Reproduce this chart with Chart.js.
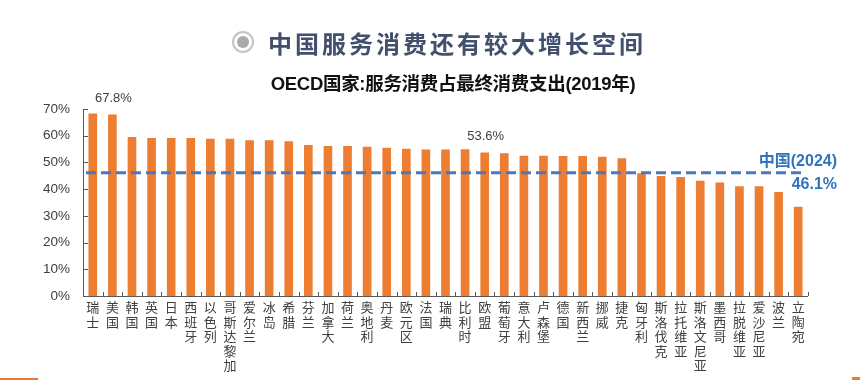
<!DOCTYPE html>
<html>
<head>
<meta charset="utf-8">
<script src="https://cdn.jsdelivr.net/npm/chart.js@4.4.1/dist/chart.umd.min.js"></script>
<style>
  html, body { margin: 0; padding: 0; background: #fff; }
  body { width: 860px; height: 380px; position: relative; overflow: hidden; }
  #wrap { position: absolute; left: 0; top: 0; width: 860px; height: 380px; }
  #title { position: absolute; top: 25px; left: 232px; height: 34px; display: flex; align-items: center;
    font-family: "Noto Sans CJK SC", sans-serif; font-weight: 700; font-size: 24px; letter-spacing: 3px; color: #42506e; white-space: nowrap; }
  #icon { width: 18px; height: 18px; border: 2px solid #c4c4c4; border-radius: 50%; position: relative; margin-right: 14px; }
  #icon::after { content: ""; position: absolute; left: 3px; top: 3px; width: 12px; height: 12px; border-radius: 50%; background: #a9a9a9; }
  #subtitle { position: absolute; top: 69px; left: 0; width: 906px; text-align: center;
    font-family: "Liberation Sans", "Noto Sans CJK SC", sans-serif; font-weight: 700; font-size: 18.5px; color: #111; white-space: nowrap; letter-spacing: -0.3px; }
  .deco { position: absolute; background: #e07b39; }
</style>
</head>
<body>
<div id="wrap"><canvas id="c" width="860" height="380"></canvas></div>
<div id="title"><div id="icon"></div>中国服务消费还有较大增长空间</div>
<div id="subtitle">OECD国家:服务消费占最终消费支出(2019年)</div>
<div class="deco" style="left:0;top:378px;width:38px;height:2px;"></div>
<div class="deco" style="left:852px;top:377px;width:8px;height:3px;"></div>
<script>
const countries = ['瑞士','美国','韩国','英国','日本','西班牙','以色列','哥斯达黎加','爱尔兰','冰岛','希腊','芬兰','加拿大','荷兰','奥地利','丹麦','欧元区','法国','瑞典','比利时','欧盟','葡萄牙','意大利','卢森堡','德国','新西兰','挪威','捷克','匈牙利','斯洛伐克','拉托维亚','斯洛文尼亚','墨西哥','拉脱维亚','爱沙尼亚','波兰','立陶宛'];
const serviceShare = [68.2,67.8,59.4,59.0,59.0,59.0,58.7,58.7,58.2,58.2,57.8,56.4,56.0,56.0,55.7,55.4,55.0,54.7,54.7,54.8,53.6,53.3,52.4,52.4,52.3,52.3,52.0,51.4,45.8,44.8,44.4,43.0,42.4,41.0,41.0,38.8,33.3];
const labeledCountries = ['美国','欧盟'];
const chinaLabel = '中国(2024)';
const chinaValue = 46.1;
const yTicks = [0,10,20,30,40,50,60,70];

const axisColor = '#595959';

const decorPlugin = {
  id: 'decor',
  afterDatasetsDraw(chart) {
    const ctx = chart.ctx, ca = chart.chartArea;
    const xs = chart.scales.x, ys = chart.scales.y;
    ctx.save();
    ctx.strokeStyle = axisColor; ctx.lineWidth = 1;
    ctx.beginPath();
    ctx.moveTo(Math.round(ca.left) + 0.5, ca.top);
    ctx.lineTo(Math.round(ca.left) + 0.5, Math.round(ca.bottom) + 0.5);
    ctx.lineTo(ca.right, Math.round(ca.bottom) + 0.5);
    ctx.stroke();
    ctx.beginPath();
    yTicks.forEach(v => {
      const y = Math.round(ys.getPixelForValue(v)) + 0.5;
      ctx.moveTo(ca.left, y); ctx.lineTo(ca.left + 5, y);
    });
    const n = countries.length;
    for (let i = 0; i <= n; i++) {
      const x = Math.round(ca.left + i * (ca.right - ca.left) / n) + 0.5;
      ctx.moveTo(x, ca.bottom); ctx.lineTo(x, ca.bottom - 4);
    }
    ctx.stroke();
    const yc = ys.getPixelForValue(chinaValue);
    ctx.strokeStyle = '#4a78bf'; ctx.lineWidth = 3; ctx.setLineDash([10, 5]);
    ctx.beginPath(); ctx.moveTo(ca.left + 3, yc); ctx.lineTo(ca.right - 7, yc); ctx.stroke();
    ctx.setLineDash([]);
    ctx.fillStyle = '#2f75bd';
    ctx.font = 'bold 16px "Liberation Sans", "Noto Sans CJK SC", sans-serif';
    ctx.textAlign = 'right'; ctx.textBaseline = 'middle';
    ctx.fillText(chinaLabel, ca.right + 29, yc - 11);
    ctx.fillText(chinaValue.toFixed(1) + '%', ca.right + 29, yc + 12);
    ctx.fillStyle = '#404040';
    ctx.font = '13px "Liberation Sans", sans-serif';
    ctx.textAlign = 'center';
    const meta = chart.getDatasetMeta(0);
    labeledCountries.forEach(name => {
      const i = countries.indexOf(name);
      const bar = meta.data[i];
      ctx.fillText(serviceShare[i].toFixed(1) + '%', bar.x + 1, bar.y - 16);
    });
    ctx.restore();
  }
};

new Chart(document.getElementById('c'), {
  type: 'bar',
  data: {
    labels: countries.map(s => s.split('')),
    datasets: [{
      data: serviceShare,
      backgroundColor: '#ed7d31',
      barThickness: 8
    }]
  },
  options: {
    responsive: false,
    animation: false,
    devicePixelRatio: 1,
    layout: { padding: { top: 109, right: 52, left: 0, bottom: 0 } },
    plugins: { legend: { display: false }, tooltip: { enabled: false }, title: { display: false } },
    scales: {
      x: {
        offset: true,
        grid: { display: false, drawTicks: false },
        border: { display: false },
        afterFit(scale) { scale.height = 84; },
        ticks: {
          autoSkip: false, maxRotation: 0, minRotation: 0, padding: 4,
          color: '#404040',
          font: { family: '"Noto Sans CJK SC", sans-serif', size: 13, lineHeight: 1.12 }
        }
      },
      y: {
        min: 0, max: 70,
        grid: { display: false, drawTicks: false },
        border: { display: false },
        afterFit(scale) { scale.width = 83; },
        ticks: {
          stepSize: 10, padding: 13,
          color: '#404040',
          font: { family: '"Liberation Sans", sans-serif', size: 13.5 },
          callback: v => v + '%'
        }
      }
    }
  },
  plugins: [decorPlugin]
});
</script>
</body>
</html>
